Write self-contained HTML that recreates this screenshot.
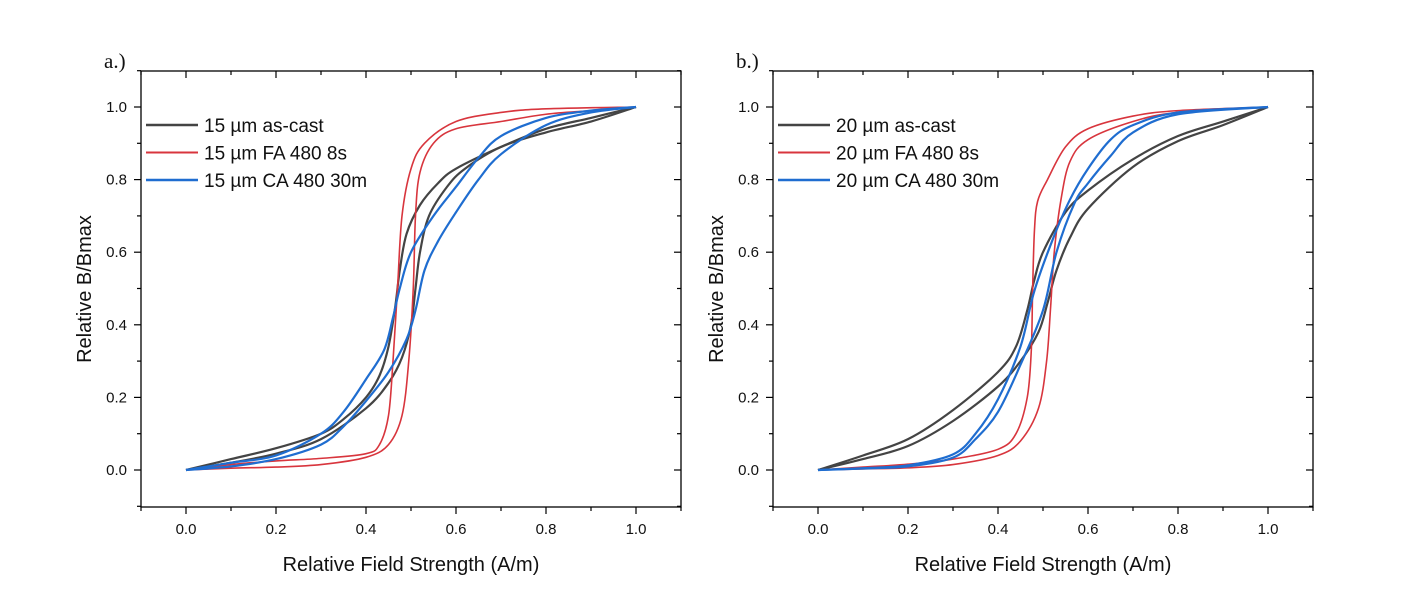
<!DOCTYPE html>
<html><head><meta charset="utf-8"><style>
body{margin:0;background:#fff;}
svg{display:block;font-family:"Liberation Sans",Arial,sans-serif;}
</style></head><body>
<svg id="chart" width="1424" height="610"></svg>
<script>
const xTicks=[0.0,0.2,0.4,0.6,0.8,1.0];
const yTicks=[0.0,0.2,0.4,0.6,0.8,1.0];
// Panel a series: [x, y] pairs per branch
const aBlackUp=[[0,0],[0.1,0.03],[0.2,0.06],[0.3,0.1],[0.35,0.14],[0.4,0.2],[0.43,0.26],[0.45,0.34],[0.465,0.45],[0.475,0.55],[0.49,0.65],[0.52,0.73],[0.56,0.79],[0.6,0.83],[0.7,0.89],[0.8,0.94],[0.9,0.97],[1,1]];
const aBlackDn=[[0,0],[0.1,0.02],[0.2,0.045],[0.3,0.085],[0.4,0.17],[0.45,0.24],[0.48,0.31],[0.5,0.4],[0.51,0.5],[0.52,0.6],[0.54,0.7],[0.58,0.78],[0.62,0.83],[0.7,0.89],[0.8,0.93],[0.9,0.96],[1,1]];
const aRedUp=[[0,0],[0.1,0.015],[0.2,0.025],[0.3,0.032],[0.4,0.045],[0.43,0.07],[0.45,0.15],[0.46,0.3],[0.47,0.5],[0.48,0.7],[0.5,0.83],[0.53,0.9],[0.6,0.96],[0.7,0.985],[0.8,0.995],[1,1]];
const aRedDn=[[0,0],[0.1,0.005],[0.2,0.008],[0.3,0.015],[0.4,0.035],[0.45,0.07],[0.48,0.15],[0.495,0.3],[0.505,0.5],[0.51,0.7],[0.52,0.82],[0.55,0.9],[0.6,0.94],[0.7,0.96],[0.8,0.98],[0.9,0.99],[1,1]];
const aBlueUp=[[0,0],[0.1,0.02],[0.2,0.04],[0.3,0.1],[0.35,0.16],[0.4,0.25],[0.44,0.33],[0.46,0.42],[0.475,0.5],[0.5,0.6],[0.55,0.7],[0.6,0.78],[0.65,0.86],[0.7,0.92],[0.8,0.97],[0.9,0.99],[1,1]];
const aBlueDn=[[0,0],[0.1,0.01],[0.2,0.03],[0.3,0.07],[0.35,0.12],[0.4,0.19],[0.45,0.27],[0.49,0.36],[0.51,0.44],[0.53,0.55],[0.56,0.63],[0.6,0.71],[0.65,0.8],[0.7,0.87],[0.8,0.95],[0.9,0.985],[1,1]];
// Panel b series
const bBlackUp=[[0,0],[0.1,0.04],[0.2,0.085],[0.3,0.165],[0.4,0.27],[0.44,0.34],[0.465,0.44],[0.48,0.52],[0.5,0.6],[0.55,0.71],[0.6,0.77],[0.7,0.856],[0.8,0.92],[0.9,0.96],[1,1]];
const bBlackDn=[[0,0],[0.1,0.03],[0.2,0.066],[0.3,0.135],[0.4,0.23],[0.45,0.3],[0.49,0.38],[0.51,0.46],[0.53,0.55],[0.56,0.64],[0.6,0.72],[0.7,0.835],[0.8,0.906],[0.9,0.95],[1,1]];
const bRedUp=[[0,0],[0.1,0.008],[0.2,0.016],[0.3,0.03],[0.4,0.057],[0.44,0.1],[0.465,0.2],[0.474,0.33],[0.477,0.5],[0.481,0.66],[0.488,0.74],[0.51,0.8],[0.55,0.89],[0.6,0.94],[0.7,0.975],[0.8,0.99],[1,1]];
const bRedDn=[[0,0],[0.1,0.003],[0.2,0.006],[0.3,0.015],[0.4,0.04],[0.45,0.08],[0.49,0.17],[0.508,0.3],[0.517,0.45],[0.525,0.6],[0.54,0.745],[0.56,0.85],[0.6,0.91],[0.7,0.96],[0.8,0.985],[1,1]];
const bBlueUp=[[0,0],[0.1,0.005],[0.2,0.013],[0.3,0.043],[0.35,0.1],[0.4,0.195],[0.45,0.34],[0.48,0.49],[0.52,0.63],[0.56,0.745],[0.6,0.83],[0.65,0.91],[0.7,0.95],[0.8,0.985],[1,1]];
const bBlueDn=[[0,0],[0.1,0.004],[0.2,0.01],[0.3,0.034],[0.35,0.085],[0.4,0.16],[0.45,0.29],[0.5,0.44],[0.53,0.6],[0.57,0.735],[0.6,0.79],[0.65,0.865],[0.7,0.93],[0.8,0.98],[1,1]];
const legendA=["15 µm as-cast","15 µm FA 480 8s","15 µm CA 480 30m"];
const legendB=["20 µm as-cast","20 µm FA 480 8s","20 µm CA 480 30m"];
const colors=["#444444","#d8353d","#1f6dd0"];
const widths=[2.2,1.6,2.2];

const NS="http://www.w3.org/2000/svg";
const svg=document.getElementById('chart');
function mk(tag,attrs,parent){const e=document.createElementNS(NS,tag);for(const k in attrs)e.setAttribute(k,attrs[k]);(parent||svg).appendChild(e);return e;}
function spline(pts){let d="M"+pts[0][0].toFixed(2)+","+pts[0][1].toFixed(2);
 for(let i=0;i<pts.length-1;i++){const p0=pts[Math.max(0,i-1)],p1=pts[i],p2=pts[i+1],p3=pts[Math.min(pts.length-1,i+2)];
  const c1=[p1[0]+(p2[0]-p0[0])/6,p1[1]+(p2[1]-p0[1])/6],c2=[p2[0]-(p3[0]-p1[0])/6,p2[1]-(p3[1]-p1[1])/6];
  d+="C"+c1.map(v=>v.toFixed(2))+" "+c2.map(v=>v.toFixed(2))+" "+p2.map(v=>v.toFixed(2));}
 return d;}
function panel(L,label,series,legend,id){
 const R=L+540,T=71,B=507;
 const xs=v=>L+45+v*450, ys=v=>470-v*363;
 const g=mk('g',{});
 
 
 const fr=mk('rect',{x:L,y:T,width:540,height:B-T,fill:'none',stroke:'#000','stroke-width':1.3},g);
 
 
 for(let i=-1;i<=11;i++){const v=i/10,x=xs(v),maj=i%2===0,len=maj?7:4;
  mk('line',{x1:x,y1:B,x2:x,y2:B+len,stroke:'#000','stroke-width':1.2},g);
  mk('line',{x1:x,y1:T,x2:x,y2:T+len,stroke:'#000','stroke-width':1.2},g);
  const y=ys(v);
  if(y>=T-1&&y<=B+1){mk('line',{x1:L,y1:y,x2:L-len,y2:y,stroke:'#000','stroke-width':1.2},g);
  mk('line',{x1:R,y1:y,x2:R-len,y2:y,stroke:'#000','stroke-width':1.2},g);}}
 xTicks.forEach(v=>{const t=mk('text',{x:xs(v),y:534,'font-size':15,'text-anchor':'middle',fill:'#111'},g);t.textContent=v.toFixed(1);
  
  });
 yTicks.forEach(v=>{const t=mk('text',{x:L-14,y:ys(v)+5,'font-size':15,'text-anchor':'end',fill:'#111'},g);t.textContent=v.toFixed(1);
  
  });
 const xt=mk('text',{x:L+270,y:571,'font-size':20,'text-anchor':'middle',fill:'#111'},g);xt.textContent="Relative Field Strength (A/m)";
 
 
 const yt=mk('text',{x:0,y:0,'font-size':20,'text-anchor':'middle',fill:'#111',transform:`translate(${L-50},289) rotate(-90)`},g);yt.textContent="Relative B/Bmax";
 
 
 const pl=mk('text',{x:L-37,y:68,'font-size':21,'font-family':'"Liberation Serif",serif',fill:'#111'},g);pl.textContent=label;
 
 
 series.forEach((s,i)=>{s.forEach(br=>{const p=mk('path',{d:spline(br.map(q=>[xs(q[0]),ys(q[1])])),fill:'none',stroke:colors[i],'stroke-width':widths[i],'stroke-linejoin':'round'},g);
  
  });});
 legend.forEach((txt,i)=>{const y=125+i*27.5;
  const ln=mk('line',{x1:L+5,y1:y,x2:L+57,y2:y,stroke:colors[i],'stroke-width':widths[i]+0.3},g);
  
  
  const t=mk('text',{x:L+63,y:y+7,'font-size':19,fill:'#111'},g);t.textContent=txt;
  
  });
}
panel(141,"a.)",[[aBlackUp,aBlackDn],[aRedUp,aRedDn],[aBlueUp,aBlueDn]],legendA,'a');
panel(773,"b.)",[[bBlackUp,bBlackDn],[bRedUp,bRedDn],[bBlueUp,bBlueDn]],legendB,'b');
</script>
</body></html>
